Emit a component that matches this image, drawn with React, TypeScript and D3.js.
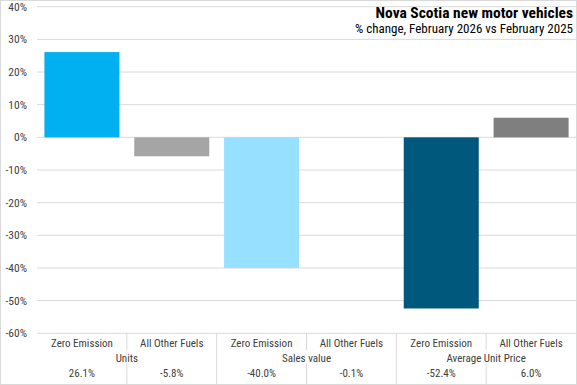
import React from "react";
import * as d3 from "d3";

const groups = ["Units", "Sales value", "Average Unit Price"];
const fuels = ["Zero Emission", "All Other Fuels"];
const values = [26.1, -5.8, -40.0, -0.1, -52.4, 6.0];
const colors = ["#00b0f0", "#a5a5a5", "#97e0ff", "#d9d9d9", "#00587c", "#7f7f7f"];
const yTicks = [40, 30, 20, 10, 0, -10, -20, -30, -40, -50, -60];

const W = 577;
const H = 385;
const FONT = "'Liberation Sans Narrow', 'Roboto Condensed', Roboto, sans-serif";

const App = () => {
  const cols = groups.flatMap((g) => fuels.map((f) => `${g}|${f}`));
  const x = d3.scaleBand().domain(cols).range([37, 576]).paddingInner(0.165).paddingOuter(0.0825);
  const y = d3.scaleLinear().domain([-60, 40]).range([333.3, 6.7]);
  const step = x.step();
  const left = 37;
  const colLeft = (i) => left + i * step;
  const fmt = (v) => `${v.toFixed(1)}%`;

  return (
    <svg width={W} height={H} style={{ position: "absolute", left: 0, top: 0 }} fontFamily={FONT}>
      <rect x={0.5} y={0.5} width={W - 1} height={H - 1} fill="#fff" stroke="#d9d9d9" />
      {yTicks.map((t) => (
        <g key={t}>
          <line x1={37} x2={576} y1={y(t)} y2={y(t)} stroke="#d9d9d9" strokeWidth={1} />
          <text x={27} y={y(t)} dy="0.35em" textAnchor="end" fontSize={11.5} fill="#404040">
            {`${t}%`}
          </text>
        </g>
      ))}
      {values.map((v, i) => (
        <rect
          key={cols[i]}
          x={x(cols[i])}
          width={x.bandwidth()}
          y={y(Math.max(0, v))}
          height={Math.max(0.5, Math.abs(y(v) - y(0)))}
          fill={colors[i]}
        />
      ))}
      {/* data table */}
      {cols.map((c, i) => {
        const [g, f] = c.split("|");
        const cx = colLeft(i) + step / 2;
        return (
          <g key={c}>
            <text x={cx} y={343} dy="0.35em" textAnchor="middle" fontSize={11} fill="#404040">
              {f}
            </text>
            <text x={cx} y={373.5} dy="0.35em" textAnchor="middle" fontSize={11} fill="#404040">
              {fmt(values[i])}
            </text>
            {i > 0 && (
              <line
                x1={colLeft(i)}
                x2={colLeft(i)}
                y1={333.3}
                y2={H - 1}
                stroke="#d9d9d9"
                strokeDasharray={i % 2 === 1 ? "17 13 100" : undefined}
              />
            )}
          </g>
        );
      })}
      {groups.map((g, gi) => (
        <text
          key={g}
          x={colLeft(gi * 2) + step}
          y={358}
          dy="0.35em"
          textAnchor="middle"
          fontSize={11}
          fill="#404040"
        >
          {g}
        </text>
      ))}
      <text x={573} y={18} textAnchor="end" fontSize={15.5} fontWeight="bold" fill="#000">
        Nova Scotia new motor vehicles
      </text>
      <text x={573} y={33} textAnchor="end" fontSize={13} fill="#000">
        % change, February 2026 vs February 2025
      </text>
    </svg>
  );
};

export default App;
